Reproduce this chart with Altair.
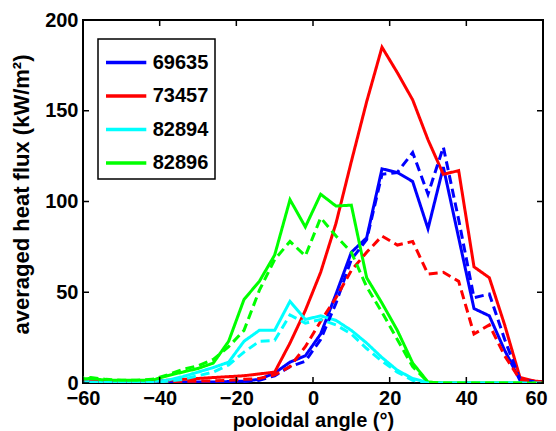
import altair as alt
import pandas as pd

angles = [-62, -58, -54, -50, -46, -42, -38, -34, -30, -26, -22, -18, -14, -10, -6, -2,
          2, 6, 10, 14, 18, 22, 26, 30, 34, 38, 42, 46, 50, 54, 58, 62]

shots = ["69635", "73457", "82894", "82896"]
colors = ["#0000ff", "#ff0000", "#00ffff", "#00ff00"]

solid_69635 = [0.5, 0.5, 0.5, 0.5, 0.5, 0.5, 0.5, 0.5, 0.5, 0.5, 0.8, 1, 2, 5.5, 11.5, 15,
               27, 49, 72, 80, 118, 116, 111, 85, 119, 80, 41, 37, 18, 1.5, 0.5, 0.3]
dashed_69635 = [0.3, 0.3, 0.3, 0.3, 0.3, 0.3, 0.3, 0.3, 0.3, 0.3, 0.5, 0.8, 1.5, 4, 9, 12,
                24, 44, 68, 79, 115, 116, 127, 104, 130, 90, 47, 49, 24, 2, 0.5, 0.3]
solid_73457 = [0.5, 0.5, 0.5, 0.5, 0.5, 1, 1.5, 2, 2.5, 3, 3.5, 4, 5, 6, 22, 40,
               61, 88, 122, 155, 185, 171, 156, 134, 115, 117, 64, 58, 32, 3, 1, 0.5]
dashed_73457 = [0.5, 0.5, 0.5, 0.5, 0.5, 0.5, 0.8, 1, 1, 1.2, 1.5, 2, 2.5, 4.5, 9, 20,
                34, 47, 62, 72, 81, 76, 78, 60, 61, 56, 27, 32, 15, 2, 0.5, 0.3]
solid_82894 = [0.5, 0.5, 0.5, 0.5, 0.5, 0.8, 1.5, 3.5, 6, 8.5, 11.5, 23, 29, 29, 45, 35,
               37, 34.5, 29, 22, 14, 7, 2.5, 0.3, 0, 0, 0, 0, 0, 0, 0, 0]
dashed_82894 = [0.3, 0.3, 0.3, 0.3, 0.3, 0.3, 1, 2, 4, 6, 10, 17, 23, 23.5, 37.5, 33,
                35, 32, 27, 19, 12, 6, 1.5, 0, 0, 0, 0, 0, 0, 0, 0, 0]
solid_82896 = [2, 2.5, 1.5, 1.5, 1.5, 1.5, 4, 6, 8, 11, 23, 46, 56, 70.5, 101, 86,
               104, 97.5, 98, 58, 44, 29, 11, 0.5, 0, 0, 0, 0, 0, 0, 0, 0]
dashed_82896 = [2.5, 3, 2, 1.5, 1.5, 2, 4.5, 7.5, 9.5, 13, 20, 29, 51, 68, 78, 70,
                91, 81, 72, 53, 39, 24, 9, 0.5, 0, 0, 0, 0, 0, 0, 0, 0]

x_ticks = [-60, -40, -20, 0, 20, 40, 60]
y_ticks = [0, 50, 100, 150, 200]

series = [
    ("69635", "solid", solid_69635), ("73457", "solid", solid_73457),
    ("82894", "solid", solid_82894), ("82896", "solid", solid_82896),
    ("69635", "dashed", dashed_69635), ("73457", "dashed", dashed_73457),
    ("82894", "dashed", dashed_82894), ("82896", "dashed", dashed_82896),
]
rows = []
for shot, style, vals in series:
    for a, v in zip(angles, vals):
        rows.append({"angle": a, "flux": v, "shot": shot, "style": style})
df = pd.DataFrame(rows)
xt_df = pd.DataFrame({"angle": x_ticks})
yt_df = pd.DataFrame({"flux": y_ticks})

W, H = 460, 363
TICK = 6
FONT = "Liberation Sans"

xscale = alt.Scale(domain=[-60, 60], nice=False, zero=False)
yscale = alt.Scale(domain=[0, 200], nice=False)

x_axis = alt.Axis(values=x_ticks, ticks=False, domain=False, grid=False,
                  labelFlush=False, labelOverlap=False, labelPadding=5,
                  labelOffset={"condition": {"test": "datum.value === 60", "value": -7},
                               "value": 0},
                  title="poloidal angle (°)", titlePadding=2, titleFontSize=20)
y_axis = alt.Axis(values=y_ticks, ticks=False, domain=False, grid=False,
                  labelFlush=False, labelOverlap=False, labelPadding=5,
                  title="averaged heat flux (kW/m²)", titlePadding=11,
                  titleFontSize=22, titleY=174)

lines = alt.Chart(df).mark_line(strokeWidth=3, clip=True).encode(
    x=alt.X("angle:Q", scale=xscale, axis=x_axis),
    y=alt.Y("flux:Q", scale=yscale, axis=y_axis),
    color=alt.Color("shot:N", scale=alt.Scale(domain=shots, range=colors),
                    legend=alt.Legend(title=None,
                                      orient="none", legendX=15, legendY=19,
                                      symbolType="M-1.3,0H1.3", symbolSize=961,
                                      symbolStrokeWidth=3.5, symbolOffset=4.65,
                                      labelOffset=9, padding=6, rowPadding=5.5,
                                      labelFontSize=20, labelFont=FONT, labelFontWeight="bold",
                                      labelColor="black", strokeColor="black", fillColor="white",
                                      labelExpr="datum.label + '   '")),
    strokeDash=alt.StrokeDash("style:N",
                              scale=alt.Scale(domain=["solid", "dashed"], range=[[1, 0], [9, 5]]),
                              legend=None),
)

# inward tick marks on all four sides of the box (positions from the shared scales)
tick_style = dict(color="black", strokeWidth=1.5)
top_ticks = alt.Chart(xt_df).mark_rule(**tick_style).encode(
    x=alt.X("angle:Q", scale=xscale, axis=x_axis), y=alt.value(0), y2=alt.value(TICK))
bottom_ticks = alt.Chart(xt_df).mark_rule(**tick_style).encode(
    x=alt.X("angle:Q", scale=xscale, axis=x_axis), y=alt.value(H - TICK), y2=alt.value(H))
left_ticks = alt.Chart(yt_df).mark_rule(**tick_style).encode(
    y=alt.Y("flux:Q", scale=yscale, axis=y_axis), x=alt.value(0), x2=alt.value(TICK))
right_ticks = alt.Chart(yt_df).mark_rule(**tick_style).encode(
    y=alt.Y("flux:Q", scale=yscale, axis=y_axis), x=alt.value(W - TICK), x2=alt.value(W))

chart = alt.layer(lines, top_ticks, bottom_ticks, left_ticks, right_ticks).properties(
    width=W, height=H,
    autosize=alt.AutoSizeParams(type="none"),
    padding={"left": 75, "top": 12, "right": 5, "bottom": 48},
    background="white",
).configure_view(
    stroke="black", strokeWidth=2
).configure_axis(
    labelFont=FONT, labelFontSize=20, labelFontWeight="bold", labelColor="black",
    titleFont=FONT, titleFontWeight="bold", titleColor="black",
).configure_legend(
    strokeWidth=1.5
)

chart.save("out.html", embed_options={"renderer": "svg", "actions": False})
